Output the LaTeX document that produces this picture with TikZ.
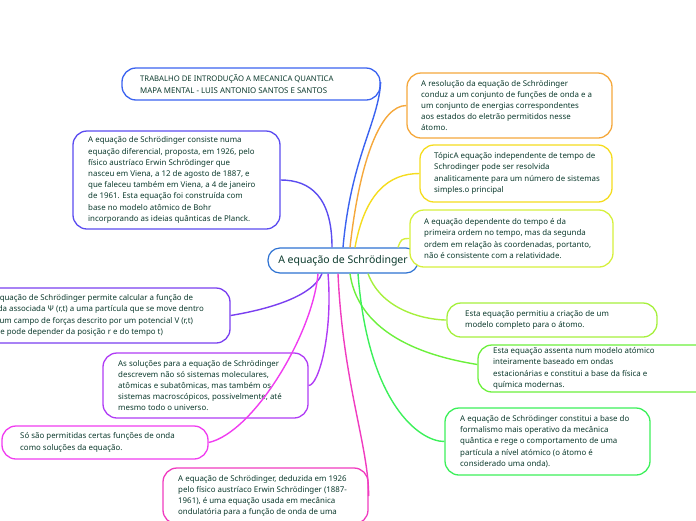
\documentclass[tikz,border=0pt]{standalone}
\usepackage{fontspec}
\setmainfont{Noto Sans}
\definecolor{txt}{HTML}{0D3B2E}
\definecolor{cBlue}{HTML}{3B63F0}
\definecolor{cBV}{HTML}{5B4CF0}
\definecolor{cViol}{HTML}{7A3FF0}
\definecolor{cPurp}{HTML}{B03CF5}
\definecolor{cMag}{HTML}{F03CF0}
\definecolor{cPink}{HTML}{F03CC0}
\definecolor{cOra}{HTML}{F5A83C}
\definecolor{cYel}{HTML}{F5DC1E}
\definecolor{cYG}{HTML}{D6F03C}
\definecolor{cLG}{HTML}{A6F03C}
\definecolor{cGr}{HTML}{6CF03C}
\definecolor{cGr2}{HTML}{3CF05A}
\definecolor{cCen}{HTML}{2E72D2}
\tikzset{
  boxs/.style={draw, line width=1.3pt, rounded corners=14pt, fill=white, inner sep=0pt},
  txts/.style={align=left, text=txt, font=\fontsize{7.9}{11.2}\selectfont, inner sep=0pt, anchor=west},
  link/.style={line width=1.4pt},
}
% name, colour, x1, y1, x2, y2, text offset, text
\newcommand\mbx[8]{%
  \node[boxs, draw=#2, minimum width={#5-#3}, minimum height={#6-#4}] (#1) at ({(#3+#5)/2},{(#4+#6)/2}) {};
  \node[txts] (#1t) at ({#3+#7},{(#4+#6)/2}) {#8};}
\begin{document}
\begin{tikzpicture}[x=1pt,y=-1pt]
\useasboundingbox (0,0) rectangle (696,520);
\clip (0,0) rectangle (696,520);

% center
\node[draw=cCen, line width=1.2pt, rounded corners=12pt, fill=white, minimum width=150pt, minimum height=25pt,
  text=txt, font=\fontsize{10.5}{12}\selectfont, inner sep=0pt] (c) at (343,260.5) {A equação de Schrödinger};

% boxes
\mbx{t}{cBlue}{122}{68}{380}{100}{18}{\fontsize{7.7}{10}\selectfont TRABALHO DE INTRODUÇÃO A MECANICA QUANTICA\\MAPA MENTAL - LUIS ANTONIO SANTOS E SANTOS}
\mbx{b2}{cBV}{73}{131}{280}{229}{15}{A equação de Schrödinger consiste numa\\equação diferencial, proposta, em 1926, pelo\\físico austríaco Erwin Schrödinger que\\nasceu em Viena, a 12 de agosto de 1887, e\\que faleceu também em Viena, a 4 de janeiro\\de 1961. Esta equação foi construída com\\base no modelo atômico de Bohr\\incorporando as ideias quânticas de Planck.}
\mbx{b3}{cViol}{-27}{288}{230}{343}{15}{A equação de Schrödinger permite calcular a função de\\onda associada Ψ (r,t) a uma partícula que se move dentro\\de um campo de forças descrito por um potencial V (r,t)\\(que pode depender da posição r e do tempo t)}
\mbx{b4}{cPurp}{103}{353}{308}{418}{15}{As soluções para a equação de Schrödinger\\descrevem não só sistemas moleculares,\\atômicas e subatômicas, mas também os\\sistemas macroscópicos, possivelmente, até\\mesmo todo o universo.}
\mbx{b5}{cMag}{2}{426}{208}{459}{18}{Só são permitidas certas funções de onda\\como soluções da equação.}
\mbx{b6}{cPink}{163}{468}{368}{524}{15}{A equação de Schrödinger, deduzida em 1926\\pelo físico austríaco Erwin Schrödinger (1887-\\1961), é uma equação usada em mecânica\\ondulatória para a função de onda de uma}
\mbx{b7}{cOra}{407}{73}{612}{138}{14}{A resolução da equação de Schrödinger\\conduz a um conjunto de funções de onda e a\\um conjunto de energias correspondentes\\aos estados do eletrão permitidos nesse\\átomo.}
\mbx{b8}{cYel}{420}{145}{612}{202}{14}{TópicA equação independente de tempo de\\Schrodinger pode ser resolvida\\analiticamente para um número de sistemas\\simples.o principal}
\mbx{b9}{cYG}{410}{210}{613}{267}{14}{A equação dependente do tempo é da\\primeira ordem no tempo, mas da segunda\\ordem em relação às coordenadas, portanto,\\não é consistente com a relatividade.}
\mbx{b11}{cLG}{447}{303}{657}{337}{18}{Esta equação permitiu a criação de um\\modelo completo para o átomo.}
\mbx{b12}{cGr}{478}{345}{710}{392}{15}{Esta equação assenta num modelo atómico\\inteiramente baseado em ondas\\estacionárias e constitui a base da física e\\química modernas.}
\mbx{b13}{cGr2}{445}{408}{650}{475}{15}{A equação de Schrödinger constitui a base do\\formalismo mais operativo da mecânica\\quântica e rege o comportamento de uma\\partícula a nível atómico (o átomo é\\considerado uma onda).}

% connectors
\draw[link, cBlue] (c.north) .. controls +(8,-90) and +(-2,40) .. ([yshift=2pt]t.east);
\draw[link, cBV] ([xshift=-11pt]c.north) .. controls +(0,-50) and +(30,0) .. (b2.east);
\draw[link, cOra] ([xshift=7pt]c.north) .. controls +(10,-90) and +(-25,0) .. (b7.west);
\draw[link, cYel] ([xshift=12pt]c.north) .. controls +(10,-55) and +(-30,0) .. (b8.west);
\draw[link, cYG] ([xshift=55pt]c.north) .. controls +(3,-8) and +(-8,0) .. (b9.west);
\draw[link, cViol] ([xshift=-21pt]c.south) .. controls +(-10,25) and +(30,-5) .. (b3.east);
\draw[link, cPurp] ([xshift=-15pt]c.south) .. controls +(5,60) and +(10,0) .. (b4.east);
\draw[link, cMag] ([xshift=-25pt]c.south) .. controls +(-5,60) and +(45,-10) .. (b5.east);
\draw[link, cPink] ([xshift=-5pt]c.south) .. controls +(5,110) and +(0,-50) .. (b6.east);
\draw[link, cLG] ([xshift=25pt]c.south) .. controls +(15,40) and +(-15,0) .. (b11.west);
\draw[link, cGr] ([xshift=7pt]c.south) .. controls +(10,70) and +(-30,-5) .. ([yshift=4pt]b12.west);
\draw[link, cGr2] ([xshift=15pt]c.south) .. controls +(10,130) and +(-25,0) .. (b13.west);
\end{tikzpicture}
\end{document}
